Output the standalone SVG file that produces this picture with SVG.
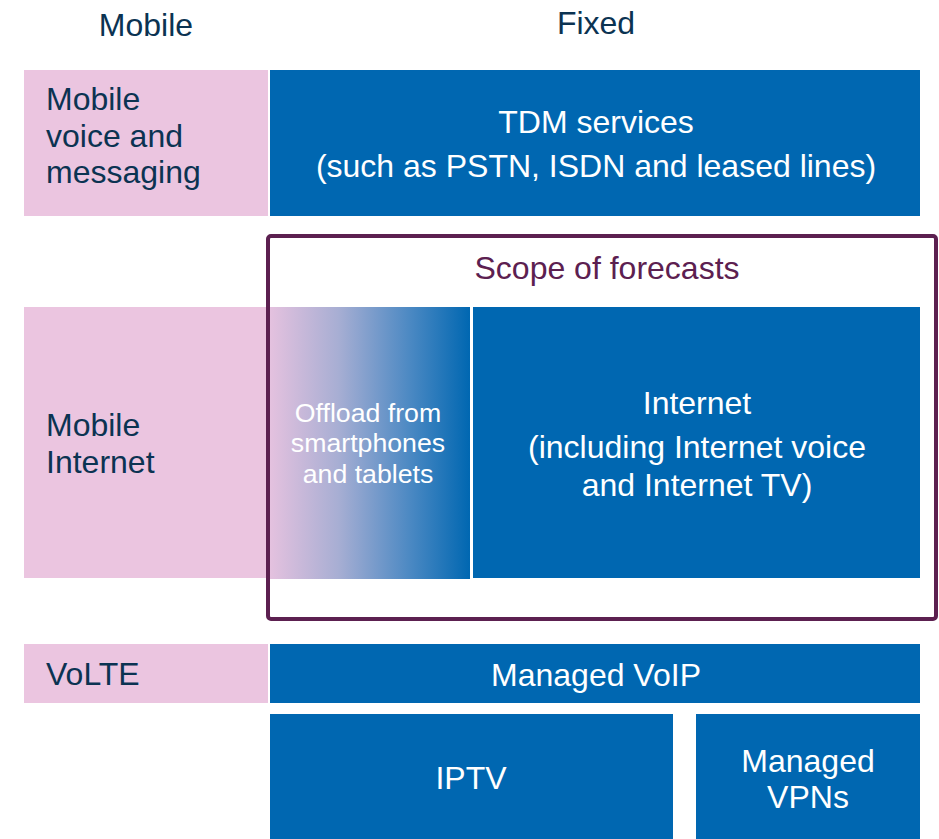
<svg xmlns="http://www.w3.org/2000/svg" width="939" height="839" viewBox="0 0 939 839">
  <style>
    .pink { fill: #EBC5E0; }
    .blue { fill: #0067B1; }
    .t { font-family: "Liberation Sans", Arial, sans-serif; font-size: 32px; }
    .small { font-size: 26.7px; }
    .dark { fill: #0B3352; }
    .white { fill: #FFFFFF; }
    .mid { text-anchor: middle; }
    .scope { fill: none; stroke: #5C2050; stroke-width: 4; }
  </style>
  <defs>
    <linearGradient id="offloadGrad" x1="0" y1="0" x2="1" y2="0">
      <stop offset="0" stop-color="#E6C2DF"/>
      <stop offset="0.35" stop-color="#A7AED3"/>
      <stop offset="0.7" stop-color="#4C89C3"/>
      <stop offset="1" stop-color="#0067B1"/>
    </linearGradient>
  </defs>
  <rect width="939" height="839" fill="#FFFFFF"/>

  <!-- column headings -->
  <g id="headings">
    <text class="t dark mid" x="146" y="36">Mobile</text>
    <text class="t dark mid" x="596" y="34">Fixed</text>
  </g>

  <!-- row 1 -->
  <g id="mobile-voice">
    <rect class="pink" x="24" y="70" width="244" height="146"/>
    <text class="t dark" x="46" y="110">Mobile</text>
    <text class="t dark" x="46" y="147">voice and</text>
    <text class="t dark" x="46" y="183">messaging</text>
  </g>
  <g id="tdm">
    <rect class="blue" x="270" y="70" width="650" height="146"/>
    <text class="t white mid" x="596" y="133">TDM services</text>
    <text class="t white mid" x="596" y="177">(such as PSTN, ISDN and leased lines)</text>
  </g>

  <!-- row 2 -->
  <g id="mobile-internet">
    <rect class="pink" x="24" y="307" width="246" height="271"/>
    <text class="t dark" x="46" y="436">Mobile</text>
    <text class="t dark" x="46" y="473">Internet</text>
  </g>
  <g id="offload">
    <rect fill="url(#offloadGrad)" x="268" y="307" width="202" height="272"/>
    <text class="t small white mid" x="368" y="422">Offload from</text>
    <text class="t small white mid" x="368" y="452">smartphones</text>
    <text class="t small white mid" x="368" y="483">and tablets</text>
  </g>
  <g id="internet">
    <rect class="blue" x="473" y="307" width="447" height="271"/>
    <text class="t white mid" x="697" y="414">Internet</text>
    <text class="t white mid" x="697" y="458">(including Internet voice</text>
    <text class="t white mid" x="697" y="496">and Internet TV)</text>
  </g>

  <!-- scope frame -->
  <g id="scope">
    <rect class="scope" x="268" y="236" width="668" height="383" rx="3"/>
    <text class="t mid" fill="#5C2050" x="607" y="279">Scope of forecasts</text>
  </g>

  <!-- row 3 -->
  <g id="volte">
    <rect class="pink" x="24" y="644" width="244" height="59"/>
    <text class="t dark" x="46" y="685">VoLTE</text>
  </g>
  <g id="managed-voip">
    <rect class="blue" x="270" y="644" width="650" height="59"/>
    <text class="t white mid" x="596" y="686">Managed VoIP</text>
  </g>

  <!-- row 4 -->
  <g id="iptv">
    <rect class="blue" x="270" y="714" width="403" height="125"/>
    <text class="t white mid" x="471" y="789">IPTV</text>
  </g>
  <g id="managed-vpns">
    <rect class="blue" x="696" y="714" width="224" height="125"/>
    <text class="t white mid" x="808" y="772">Managed</text>
    <text class="t white mid" x="808" y="808">VPNs</text>
  </g>

  <g id="connectors"/>
</svg>
